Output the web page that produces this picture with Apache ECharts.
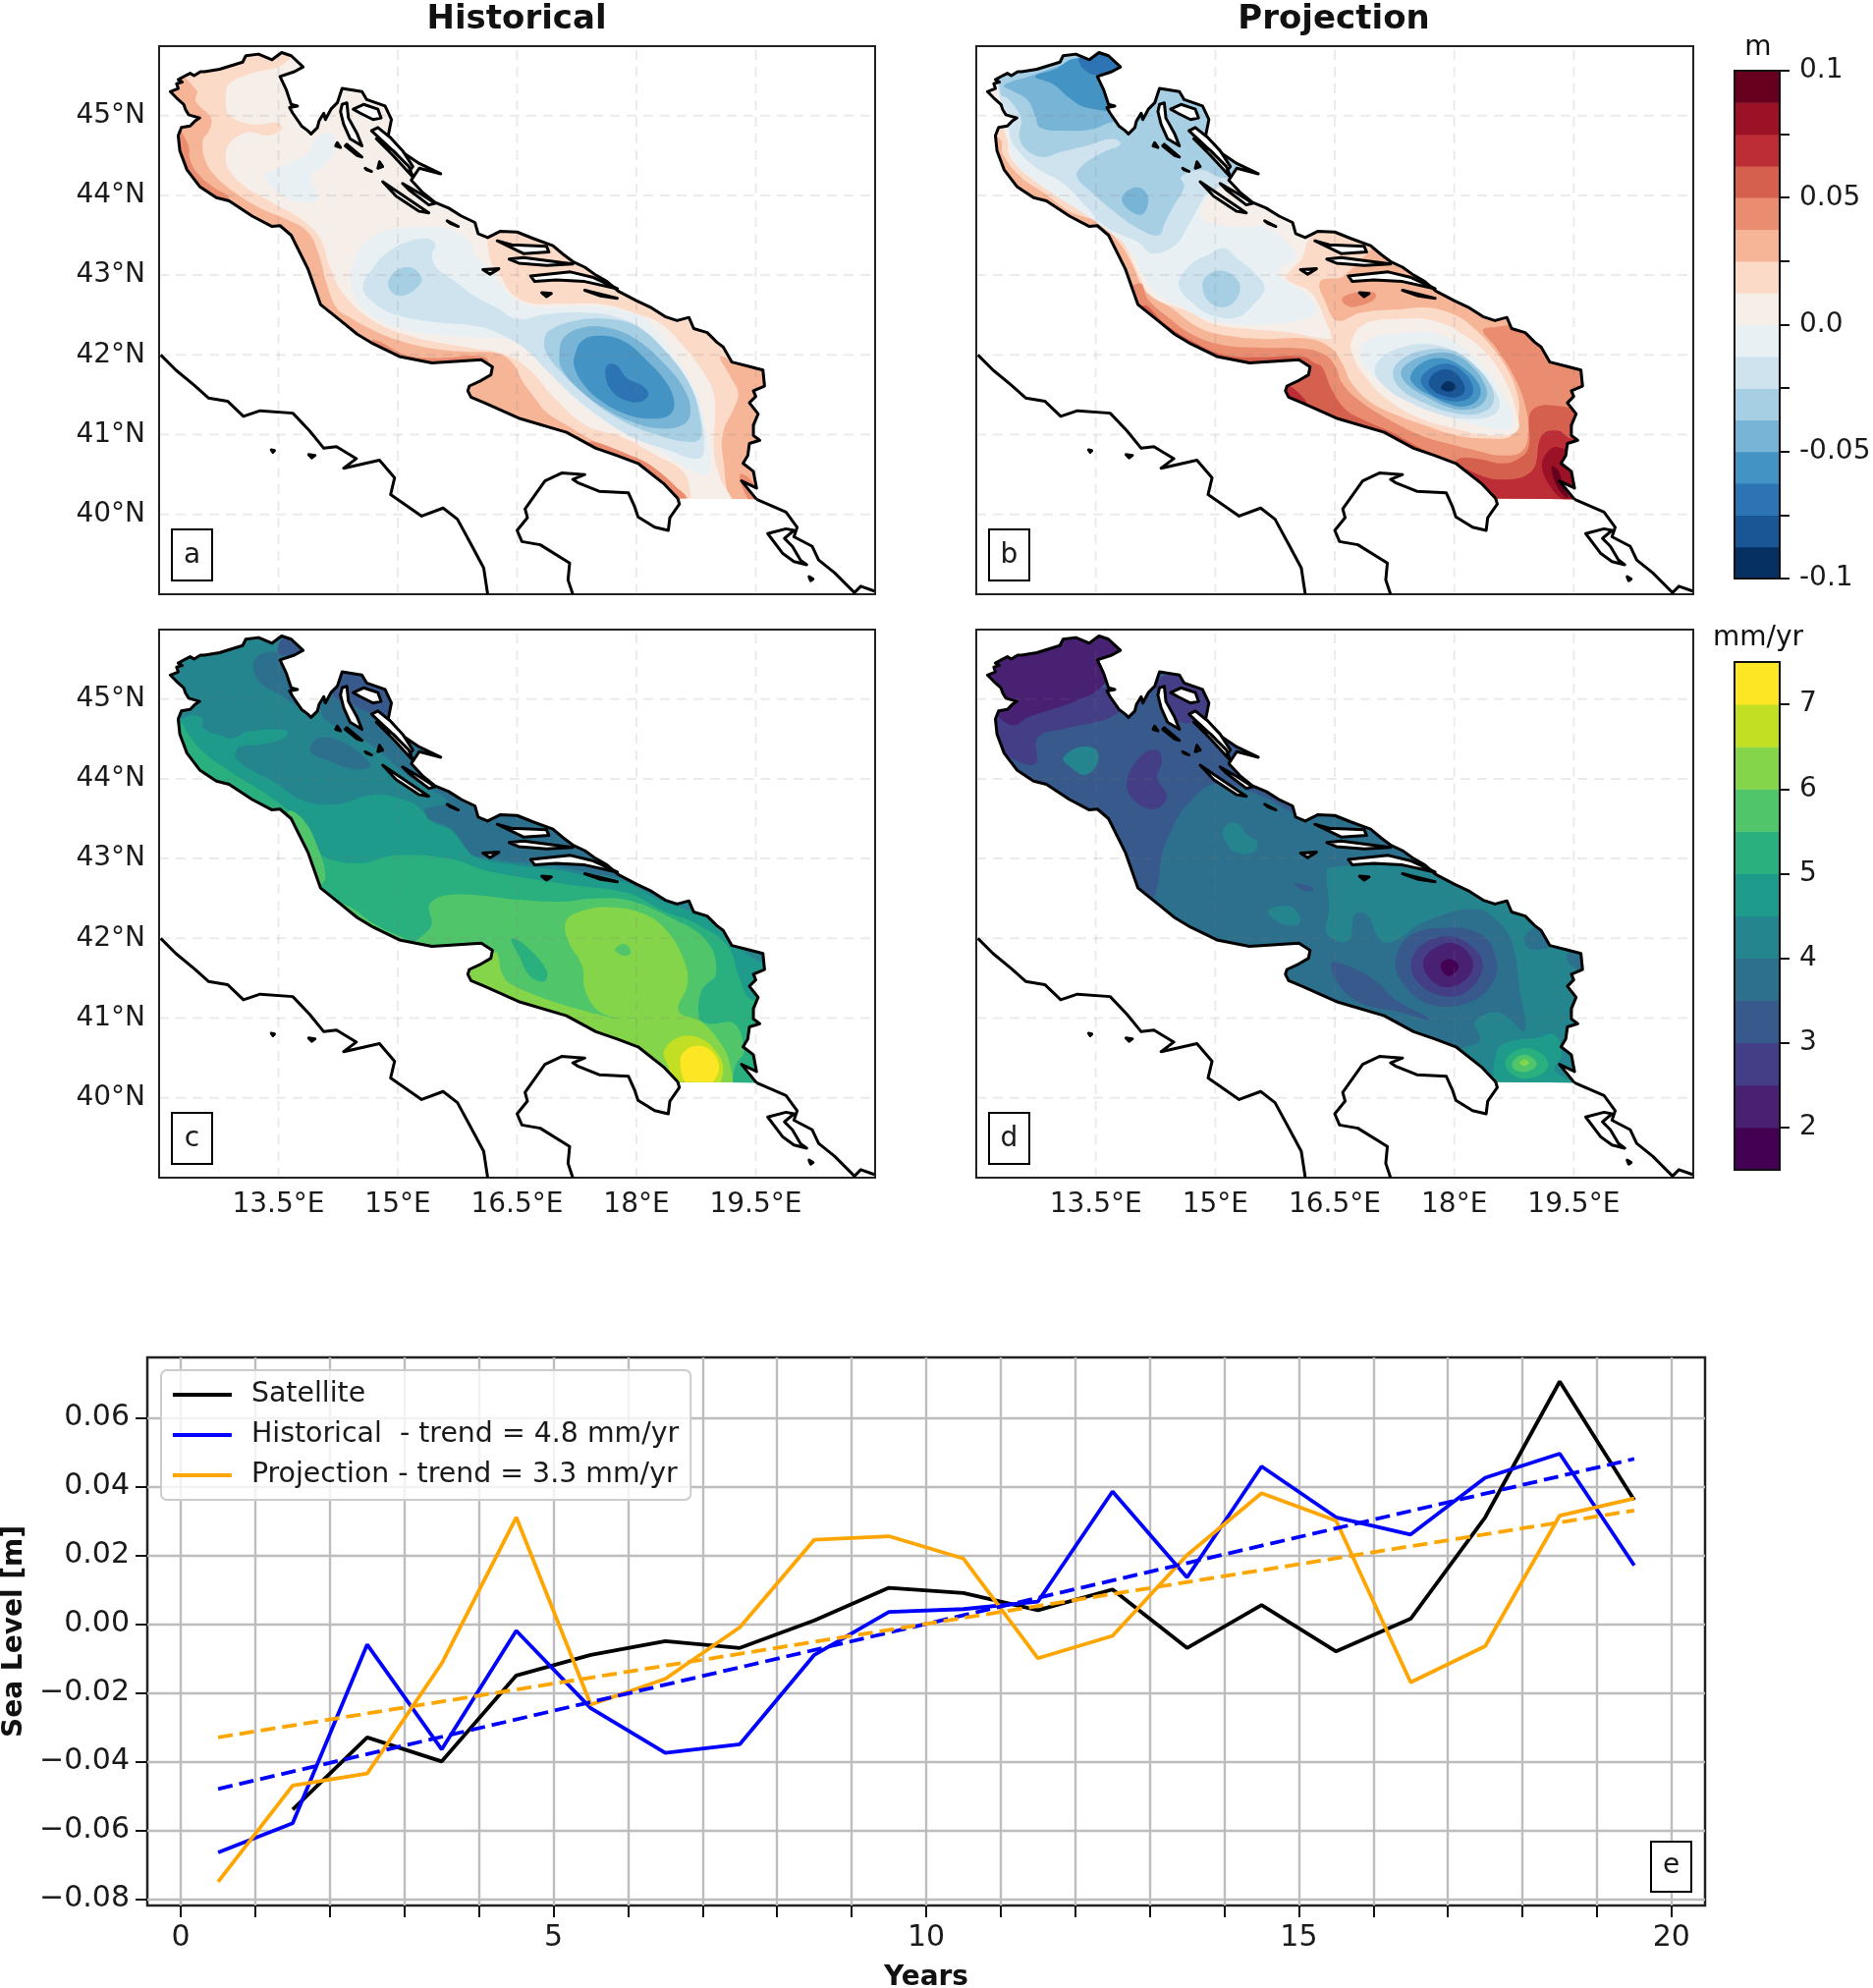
<!DOCTYPE html>
<html>
<head>
<meta charset="utf-8">
<style>html,body{margin:0;padding:0;background:#fff}#chart{width:1907px;height:2024px}</style>
<script src="https://cdn.jsdelivr.net/npm/echarts@6/dist/echarts.min.js"></script>
</head>
<body>
<div id="chart"></div>
<script>
// time series, panel e
var years = [0.5,1.5,2.5,3.5,4.5,5.5,6.5,7.5,8.5,9.5,10.5,11.5,12.5,13.5,14.5,15.5,16.5,17.5,18.5,19.5]
var satellite = [null,-0.054,-0.033,-0.040,-0.015,-0.009,-0.005,-0.007,0.001,0.0105,0.009,0.004,0.010,-0.007,0.0055,-0.008,0.0015,0.031,0.0705,0.036]
var historical = [-0.0665,-0.058,-0.006,-0.0365,-0.002,-0.0245,-0.0375,-0.035,-0.009,0.0035,0.0043,0.0065,0.0385,0.0135,0.0458,0.031,0.026,0.0425,0.0495,0.017]
var projection = [-0.075,-0.047,-0.0435,-0.0115,0.031,-0.0235,-0.016,-0.001,0.0245,0.0255,0.019,-0.010,-0.0035,0.020,0.038,0.030,-0.017,-0.0065,0.0315,0.0365]
var trendYears = [0.5,19.5]
var historicalTrend = [-0.048,0.048]
var projectionTrend = [-0.033,0.033]
var seriesNames = ['Satellite','Historical  - trend = 4.8 mm/yr','Projection - trend = 3.3 mm/yr']
var yearMinor = [0,1,2,3,4,5,6,7,8,9,10,11,12,13,14,15,16,17,18,19,20]
var yearLabels = [0,5,10,15,20]
var levelTicks = [-0.08,-0.06,-0.04,-0.02,0,0.02,0.04,0.06]

// map ticks and colour scales
var lonTicks = [13.5,15,16.5,18,19.5]
var latTicks = [40,41,42,43,44,45]
var rdbu = ['#053061','#1a5596','#2c74b4','#4394c4','#78b4d6','#a7cfe4','#cfe3ef','#e9f0f4','#f6eee9','#fcdac8','#f6b597','#e98c6f','#d6604e','#bd2d36','#9b1126','#67001f']
var viridis = ['#440154','#482173','#433e85','#38598c','#2d708e','#25858e','#1e9b8a','#2ab07f','#51c56a','#85d54a','#c2df23','#fde725']
var rdbuTicks = [-0.1,-0.075,-0.05,-0.025,0,0.025,0.05,0.075,0.1]
var rdbuLabels = [-0.1,-0.05,0,0.05,0.1]
var viridisTicks = [2,3,4,5,6,7]

// coast lines, lon/lat
var coastAdriatic = [[18.52,40.2],[18.35,40.38],[18.02,40.64],[17.75,40.74],[17.49,40.83],[17.12,41.03],[16.54,41.20],[16.09,41.40],[15.92,41.47],[15.88,41.55],[15.90,41.61],[16.05,41.68],[16.17,41.75],[16.19,41.85],[16.05,41.94],[15.43,41.90],[15.02,41.98],[14.69,42.14],[14.49,42.26],[14.28,42.43],[14.03,42.63],[13.87,43.08],[13.66,43.50],[13.52,43.62],[13.42,43.61],[13.17,43.74],[12.88,43.93],[12.72,43.97],[12.51,44.11],[12.35,44.32],[12.26,44.56],[12.24,44.75],[12.28,44.85],[12.39,44.87],[12.45,44.93],[12.51,44.97],[12.37,45.01],[12.33,45.08],[12.31,45.14],[12.22,45.22],[12.14,45.30],[12.24,45.34],[12.22,45.40],[12.29,45.42],[12.24,45.45],[12.33,45.50],[12.39,45.53],[12.44,45.50],[12.52,45.55],[12.57,45.55],[12.76,45.58],[13.05,45.67],[13.09,45.75],[13.25,45.77],[13.42,45.70],[13.54,45.79],[13.66,45.75],[13.81,45.61],[13.70,45.55],[13.52,45.49],[13.60,45.32],[13.66,45.14],[13.74,45.12],[13.64,45.10],[13.68,45.03],[13.79,44.87],[13.87,44.81],[13.91,44.77],[13.99,44.85],[14.01,44.93],[14.07,45.03],[14.09,44.95],[14.16,45.08],[14.20,45.12],[14.24,45.16],[14.30,45.34],[14.55,45.30],[14.61,45.20],[14.84,45.12],[14.92,44.95],[14.88,44.75],[15.06,44.54],[15.27,44.40],[15.54,44.27],[15.27,44.34],[15.17,44.19],[15.32,44.03],[15.47,43.91],[15.64,43.84],[15.80,43.74],[15.97,43.66],[16.01,43.52],[16.13,43.47],[16.29,43.55],[16.5,43.54],[16.70,43.46],[16.95,43.37],[17.08,43.26],[17.2,43.17],[17.35,43.10],[17.49,43.0],[17.63,42.92],[17.77,42.8],[18.0,42.68],[18.19,42.59],[18.36,42.48],[18.51,42.43],[18.66,42.47],[18.72,42.33],[18.89,42.28],[19.01,42.16],[19.09,42.10],[19.20,41.91],[19.40,41.86],[19.59,41.81],[19.61,41.61],[19.47,41.55],[19.50,41.48],[19.42,41.40],[19.53,41.26],[19.47,41.12],[19.47,40.99],[19.55,40.93],[19.42,40.89],[19.40,40.74],[19.34,40.64],[19.47,40.54],[19.51,40.33],[19.32,40.42],[19.51,40.19]]
var coastAlbania = [[19.51,40.19],[19.88,40.03],[20.02,39.84],[19.98,39.72],[20.21,39.60],[20.29,39.43],[20.49,39.27],[20.74,39.02],[20.82,39.10],[20.99,39.04]]
var coastSalento = [[18.52,40.2],[18.54,40.13],[18.42,39.96],[18.40,39.80],[18.23,39.84],[18.02,39.97],[17.98,40.09],[17.90,40.27],[17.53,40.29],[17.26,40.40],[17.20,40.44],[17.35,40.50],[17.06,40.52],[16.85,40.42],[16.60,40.07],[16.63,39.96],[16.50,39.80],[16.56,39.66],[16.79,39.62],[17.16,39.39],[17.14,39.18],[17.20,39.0]]
var coastTyrrhenian = [[12.02,42.0],[12.21,41.81],[12.44,41.62],[12.62,41.46],[12.86,41.42],[13.06,41.23],[13.27,41.30],[13.68,41.27],[13.89,41.05],[14.07,40.83],[14.23,40.85],[14.48,40.70],[14.32,40.58],[14.77,40.68],[14.96,40.46],[14.91,40.25],[15.30,39.98],[15.57,40.08],[15.75,39.94],[15.93,39.61],[16.08,39.33],[16.13,39.0]]
var islands = [
  [[19.65,39.76],[19.88,39.82],[19.98,39.80],[19.86,39.70],[19.96,39.60],[20.06,39.43],[20.14,39.37],[19.98,39.41],[19.84,39.51]],
  [[20.17,39.22],[20.22,39.19],[20.19,39.17]],
  [[13.88,40.75],[13.96,40.74],[13.92,40.71]],
  [[13.41,40.81],[13.45,40.80],[13.43,40.78]],
  [[14.30,45.14],[14.36,45.16],[14.38,44.97],[14.49,44.77],[14.55,44.62],[14.40,44.71],[14.32,44.89],[14.28,45.05]],
  [[14.44,45.08],[14.57,45.14],[14.75,45.08],[14.79,44.97],[14.69,44.95],[14.53,45.03]],
  [[14.67,44.81],[14.75,44.85],[14.90,44.73],[15.06,44.56],[15.19,44.36],[15.14,44.30],[14.98,44.52]],
  [[14.73,44.71],[14.94,44.56],[15.14,44.36],[15.19,44.23],[14.94,44.50]],
  [[14.24,44.66],[14.28,44.60],[14.22,44.62]],
  [[14.36,44.64],[14.55,44.48],[14.49,44.50],[14.34,44.62]],
  [[14.59,44.34],[14.67,44.30],[14.61,44.32]],
  [[14.77,44.42],[14.81,44.36],[14.75,44.34]],
  [[14.81,44.17],[15.02,44.03],[15.39,43.78],[15.27,43.80],[14.98,43.99]],
  [[15.06,44.15],[15.27,44.03],[15.47,43.90],[15.39,43.88],[15.14,44.07]],
  [[15.62,43.68],[15.76,43.61],[15.66,43.65]],
  [[16.07,43.07],[16.27,43.08],[16.16,43.01]],
  [[16.25,43.43],[16.43,43.38],[16.87,43.36],[16.90,43.29],[16.58,43.27]],
  [[16.40,43.20],[16.58,43.22],[17.20,43.14],[16.87,43.12],[16.52,43.15]],
  [[16.67,42.99],[17.17,43.04],[17.46,42.97],[17.76,42.83],[17.35,42.92],[16.99,42.94],[16.72,42.92]],
  [[16.81,42.78],[16.93,42.77],[16.87,42.73]],
  [[17.35,42.81],[17.76,42.71],[17.55,42.74]]
]

// contour bands: [colour level, outline in lon/lat], painted in this order
var fieldA = [
  [9,coastAdriatic],
  [10,[[12.1,45.6],[12.47,45.32],[12.46,45.18],[12.65,44.97],[12.63,44.81],[12.55,44.69],[12.58,44.44],[12.71,44.24],[12.96,44.03],[13.29,43.83],[13.58,43.71],[13.87,43.54],[14.01,43.25],[14.11,42.88],[14.23,42.59],[14.40,42.47],[14.69,42.31],[15.02,42.18],[15.43,42.08],[15.84,42.04],[16.25,42.02],[16.44,41.90],[16.58,41.65],[16.70,41.49],[16.87,41.28],[17.12,41.12],[17.49,40.91],[17.90,40.75],[18.19,40.58],[18.43,40.42],[18.60,40.19],[18.7,40.1],[18.0,40.0],[16.0,41.0],[14.0,42.0],[13.0,43.5],[12.0,44.5],[11.9,45.3]]],
  [10,[[19.05,41.98],[19.22,41.93],[19.8,41.9],[19.8,40.1],[19.24,40.13],[19.09,40.70],[19.09,41.03],[19.22,41.32],[19.28,41.52],[19.18,41.73]]],
  [11,[[12.2,44.85],[12.36,44.65],[12.39,44.44],[12.49,44.27],[12.67,44.11],[12.88,43.96],[12.7,43.8],[12.0,44.5]]],
  [11,[[17.4,40.9],[17.98,40.72],[18.23,40.58],[18.47,40.37],[18.64,40.19],[18.5,40.1],[17.8,40.4]]],
  [11,[[14.69,42.19],[15.10,42.00],[15.45,41.96],[16.1,41.97],[16.1,41.8],[14.69,42.0]]],
  [11,[[19.30,40.50],[19.45,40.42],[19.5,40.2],[19.4,40.2]]],
  [8,[[12.84,45.26],[12.88,45.40],[13.17,45.53],[13.50,45.61],[14.0,45.9],[15.6,44.9],[16.2,43.9],[16.13,43.56],[16.17,43.17],[16.29,43.0],[16.42,42.78],[16.66,42.65],[17.03,42.64],[17.61,42.63],[18.02,42.51],[18.31,42.39],[18.60,42.10],[18.85,41.77],[18.97,41.52],[18.99,41.24],[18.97,40.83],[19.05,40.46],[19.2,40.13],[18.75,40.13],[18.60,40.52],[18.23,40.75],[17.82,40.97],[17.36,41.12],[16.95,41.48],[16.70,41.77],[16.37,42.0],[15.84,42.10],[15.22,42.22],[14.69,42.43],[14.32,42.76],[14.15,43.09],[14.03,43.45],[13.79,43.70],[13.42,43.91],[13.08,44.11],[12.88,44.32],[12.84,44.52],[12.92,44.69],[13.13,44.79],[13.37,44.75],[13.54,44.83],[13.50,44.91],[13.17,44.89],[12.88,45.0],[12.84,45.14]]],
  [7,[[13.33,44.24],[13.58,44.38],[13.87,44.52],[13.99,44.73],[14.18,44.77],[14.20,44.56],[14.07,44.36],[13.91,44.24],[13.99,43.95],[13.70,43.93],[13.41,44.11]]],
  [7,[[14.42,42.84],[14.44,43.17],[14.60,43.41],[14.85,43.56],[15.22,43.60],[15.63,43.58],[15.92,43.41],[15.96,43.27],[16.13,43.09],[16.29,42.88],[16.50,42.68],[16.83,42.59],[17.36,42.61],[17.86,42.55],[18.19,42.39],[18.51,41.94],[18.72,41.61],[18.85,41.20],[18.91,40.52],[18.64,40.58],[18.31,40.79],[17.94,41.0],[17.69,41.11],[17.28,41.40],[16.95,41.73],[16.70,41.99],[16.46,42.18],[16.0,42.22],[15.43,42.26],[14.98,42.35],[14.60,42.55]]],
  [6,[[14.56,42.84],[14.69,43.09],[14.85,43.27],[15.10,43.41],[15.35,43.46],[15.47,43.39],[15.43,43.25],[15.49,43.09],[15.72,42.92],[15.96,42.74],[16.25,42.59],[16.50,42.45],[16.87,42.51],[17.36,42.53],[17.77,42.47],[18.10,42.31],[18.43,41.94],[18.68,41.61],[18.82,41.20],[18.84,40.75],[18.72,40.70],[18.39,40.81],[17.98,40.95],[17.57,41.20],[17.20,41.49],[16.87,41.81],[16.62,42.06],[16.37,42.22],[16.05,42.35],[15.47,42.41],[15.02,42.49],[14.73,42.63]]],
  [5,[[14.88,42.92],[15.0,43.07],[15.18,43.09],[15.30,42.96],[15.24,42.84],[15.06,42.74],[14.93,42.78]]],
  [5,[[16.84,42.18],[16.91,42.31],[17.24,42.43],[17.65,42.45],[18.02,42.35],[18.39,42.02],[18.68,41.61],[18.80,41.20],[18.80,40.95],[18.64,40.91],[18.27,40.99],[17.77,41.20],[17.36,41.49],[17.03,41.81],[16.87,42.02]]],
  [4,[[17.03,41.98],[17.09,42.22],[17.36,42.35],[17.69,42.33],[18.02,42.18],[18.35,41.89],[18.60,41.57],[18.68,41.28],[18.58,41.12],[18.27,41.08],[17.94,41.16],[17.61,41.32],[17.28,41.57],[17.07,41.81]]],
  [3,[[17.22,41.98],[17.32,42.18],[17.57,42.24],[17.86,42.16],[18.12,41.94],[18.35,41.69],[18.47,41.44],[18.43,41.26],[18.19,41.20],[17.86,41.26],[17.53,41.44],[17.32,41.65],[17.22,41.85]]],
  [2,[[17.63,41.87],[17.75,41.87],[17.88,41.71],[18.08,41.61],[18.15,41.50],[18.04,41.41],[17.84,41.44],[17.69,41.55],[17.62,41.69]]]
]
var fieldB = [
  [10,coastAdriatic],
  [9,[[12.31,44.69],[12.33,44.52],[12.56,44.23],[12.85,44.03],[13.17,43.80],[13.54,43.66],[13.79,43.41],[13.96,43.13],[14.12,42.80],[14.45,42.59],[14.78,42.35],[15.15,42.24],[15.60,42.2],[16.18,42.2],[16.46,42.08],[16.59,41.9],[16.71,41.65],[16.96,41.4],[17.29,41.24],[17.62,41.12],[18.03,40.99],[18.44,40.95],[18.73,40.99],[18.81,41.24],[18.79,41.52],[18.65,41.85],[18.44,42.14],[18.23,42.35],[18.03,42.49],[17.70,42.59],[17.29,42.57],[16.83,42.53],[16.53,42.43],[16.38,42.67],[16.32,42.92],[16.63,43.0],[17.0,43.6],[15.5,45],[12.5,46],[12.0,45]]],
  [8,[[12.0,46.0],[12.39,44.69],[12.41,44.52],[12.56,44.32],[12.93,44.05],[13.30,43.83],[13.67,43.62],[13.87,43.37],[14.04,43.0],[14.22,42.72],[14.65,42.55],[14.98,42.39],[15.39,42.33],[15.93,42.28],[16.44,42.2],[16.44,42.3],[16.38,42.43],[16.30,42.63],[16.18,42.8],[15.93,42.92],[15.89,42.98],[15.97,43.08],[16.09,43.21],[16.14,43.37],[16.2,43.6],[15.6,44.2],[15.5,45]]],
  [7,[[12.3,46.0],[12.41,44.69],[12.47,44.44],[12.68,44.23],[13.01,43.99],[13.34,43.78],[13.67,43.54],[13.92,43.33],[14.10,43.0],[14.33,42.72],[14.53,42.63],[14.82,42.47],[15.19,42.39],[15.72,42.39],[16.13,42.45],[16.28,42.55],[16.18,42.72],[15.89,42.92],[15.79,43.04],[16.01,43.23],[15.89,43.41],[15.64,43.6],[15.44,43.6],[15.07,43.62],[14.82,43.74],[14.90,43.97],[15.3,44.25],[15.6,44.4],[15.5,45.5],[14,46]]],
  [6,[[12.3,46],[12.28,45.30],[12.40,44.99],[12.43,44.72],[12.56,44.52],[12.76,44.34],[13.09,44.15],[13.38,43.86],[13.63,43.60],[14.04,43.41],[14.2,43.27],[14.49,43.37],[14.66,43.62],[14.82,43.91],[14.88,44.0],[15.13,44.13],[15.6,44.3],[15.5,45.5],[14.5,46]]],
  [5,[[12.31,45.26],[12.39,45.22],[12.56,44.97],[12.54,44.73],[12.64,44.56],[12.85,44.48],[13.05,44.54],[13.38,44.62],[13.71,44.71],[13.81,44.64],[13.59,44.54],[13.34,44.38],[13.26,44.24],[13.46,44.03],[13.75,43.78],[14.04,43.58],[14.29,43.50],[14.37,43.66],[14.45,43.82],[14.61,44.11],[14.57,44.23],[14.82,44.32],[15.13,44.22],[15.6,44.4],[15.5,45.5],[14.5,46],[12.3,46]]],
  [4,[[12.35,45.38],[12.72,45.51],[13.17,45.67],[13.9,45.9],[14.1,45.0],[13.67,44.91],[13.46,44.83],[13.09,44.81],[12.80,44.85],[12.74,45.0],[12.64,45.20],[12.47,45.30]]],
  [3,[[12.74,45.49],[13.01,45.59],[13.21,45.71],[13.58,45.71],[13.8,45.5],[13.8,45.1],[13.38,45.10],[13.17,45.22],[12.97,45.39]]],
  [2,[[13.30,45.73],[13.67,45.77],[13.79,45.63],[13.52,45.51],[13.34,45.59]]],
  [4,[[13.83,43.97],[13.96,44.09],[14.10,44.07],[14.16,43.93],[14.08,43.76],[13.89,43.84]]],
  [6,[[14.54,42.88],[14.69,43.13],[14.90,43.25],[15.11,43.34],[15.27,43.21],[15.48,43.04],[15.62,42.84],[15.48,42.63],[15.27,42.47],[14.98,42.49],[14.74,42.63]]],
  [5,[[14.84,42.84],[14.90,43.0],[15.11,43.05],[15.29,42.92],[15.29,42.74],[15.13,42.60],[14.94,42.65]]],
  [8,[[16.71,42.18],[16.88,42.39],[17.29,42.45],[17.74,42.43],[18.11,42.26],[18.44,41.98],[18.65,41.65],[18.77,41.32],[18.79,41.05],[18.44,40.99],[18.03,41.07],[17.58,41.2],[17.16,41.44],[16.88,41.73],[16.73,41.98]]],
  [7,[[16.83,42.1],[17.0,42.22],[17.37,42.28],[17.78,42.26],[18.11,42.1],[18.40,41.81],[18.60,41.52],[18.73,41.24],[18.69,41.07],[18.32,41.11],[17.86,41.24],[17.41,41.44],[17.04,41.69],[16.86,41.89]]],
  [6,[[17.0,41.81],[17.12,41.99],[17.45,42.12],[17.78,42.12],[18.11,41.99],[18.40,41.71],[18.57,41.4],[18.48,41.24],[18.11,41.2],[17.74,41.28],[17.37,41.44],[17.12,41.61]]],
  [5,[[17.23,41.77],[17.33,41.94],[17.62,42.06],[17.95,42.06],[18.23,41.89],[18.46,41.61],[18.48,41.38],[18.27,41.26],[17.95,41.28],[17.62,41.4],[17.33,41.57]]],
  [4,[[17.33,41.77],[17.41,41.89],[17.66,42.0],[17.95,42.02],[18.21,41.87],[18.40,41.59],[18.38,41.42],[18.21,41.32],[17.95,41.34],[17.66,41.47],[17.43,41.61]]],
  [3,[[17.45,41.73],[17.58,41.89],[17.82,41.96],[18.07,41.87],[18.30,41.65],[18.32,41.48],[18.17,41.36],[17.95,41.38],[17.70,41.49],[17.51,41.61]]],
  [2,[[17.58,41.69],[17.70,41.83],[17.91,41.89],[18.11,41.79],[18.23,41.61],[18.21,41.48],[18.07,41.42],[17.86,41.44],[17.66,41.55]]],
  [1,[[17.68,41.67],[17.78,41.79],[17.95,41.81],[18.09,41.69],[18.13,41.55],[18.03,41.47],[17.86,41.49],[17.72,41.57]]],
  [0,[[17.84,41.61],[17.91,41.67],[18.01,41.63],[18.01,41.57],[17.93,41.54],[17.84,41.57]]],
  [11,[[14.05,42.9],[14.16,42.69],[14.41,42.47],[14.74,42.24],[15.11,42.12],[15.56,42.09],[16.09,42.08],[16.38,42.0],[16.51,41.85],[16.59,41.65],[16.79,41.44],[17.16,41.2],[17.58,40.99],[17.99,40.87],[18.32,40.79],[18.56,40.74],[18.85,40.79],[18.93,41.07],[18.87,41.44],[18.73,41.77],[18.52,42.1],[18.36,42.31],[18.52,42.35],[19.2,42.4],[20,41.9],[20,40],[18.6,40.0],[17.5,40.2],[15.5,41.2],[14.0,42.2],[13.7,42.6]]],
  [11,[[16.59,42.70],[16.75,42.78],[17.0,42.78],[17.0,42.70],[16.79,42.61],[16.67,42.61]]],
  [12,[[14.10,42.62],[14.37,42.39],[14.70,42.18],[15.11,42.0],[15.56,41.97],[16.09,41.98],[16.26,41.89],[16.34,41.85],[16.46,41.57],[16.63,41.32],[16.83,41.2],[17.21,41.03],[17.58,40.83],[17.95,40.66],[18.27,40.5],[18.52,40.21],[18.6,40.1],[17.5,40.2],[15.5,41.2],[14.0,42.2]]],
  [12,[[18.03,40.68],[18.28,40.70],[18.60,40.64],[18.81,40.70],[18.93,40.83],[18.99,41.32],[19.51,41.34],[20,41.3],[20,40],[18.4,40.0],[17.8,40.3]]],
  [13,[[18.03,40.58],[18.52,40.44],[18.97,40.54],[19.10,40.99],[19.30,41.05],[19.47,40.95],[20,40.9],[20,40],[18.4,40.0]]],
  [13,[[15.88,41.62],[16.02,41.55],[16.15,41.38],[15.95,41.40]]],
  [14,[[19.10,40.62],[19.22,40.83],[19.35,40.83],[19.6,40.7],[19.6,40.1],[19.39,40.17],[19.22,40.33]]],
  [15,[[19.22,40.6],[19.30,40.56],[19.35,40.42],[19.43,40.21],[19.30,40.33]]]
]
var fieldC = [
  [5,coastAdriatic],
  [4,[[13.9,44.4],[14.03,44.52],[14.33,44.45],[14.66,44.17],[14.45,44.12],[14.1,44.24],[13.93,44.31]]],
  [4,[[13.21,45.51],[13.53,45.58],[13.59,45.35],[13.68,45.12],[13.86,44.84],[13.56,45.03],[13.24,45.24]]],
  [4,[[14.04,44.82],[14.21,44.66],[14.63,44.45],[15.16,44.01],[15.63,43.71],[15.34,43.62],[15.39,43.5],[15.69,43.36],[15.81,43.11],[16.22,42.99],[16.87,42.92],[17.46,42.81],[17.88,42.74],[18.11,42.67],[18.35,42.67],[16.58,43.92],[14.8,45.54],[14.1,45.07]]],
  [3,[[13.54,45.75],[13.71,45.77],[13.83,45.61],[13.62,45.54],[13.5,45.58]]],
  [3,[[14.27,45.31],[14.57,45.31],[14.92,45.07],[14.86,44.8],[14.39,44.94],[14.18,45.07]]],
  [6,[[12.32,44.77],[12.53,44.77],[12.56,44.63],[12.97,44.45],[12.94,44.31],[13.09,44.15],[13.45,43.96],[13.80,43.73],[14.24,43.68],[14.69,43.80],[15.16,43.71],[15.34,43.57],[15.39,43.48],[15.69,43.34],[15.87,43.11],[15.99,43.01],[16.46,42.92],[17.05,42.85],[17.46,42.76],[17.88,42.69],[18.29,42.48],[18.88,42.25],[19.23,41.93],[19.59,41.69],[20,41.6],[20,40],[18.4,40],[15,41.5],[13,43],[12,44.5]]],
  [6,[[12.68,44.47],[12.97,44.52],[13.09,44.59],[13.59,44.61],[13.59,44.52],[13.27,44.43],[13.0,44.4],[12.94,44.31],[12.74,44.38]]],
  [7,[[12.27,44.70],[12.38,44.54],[12.56,44.33],[12.91,44.08],[13.33,43.82],[13.68,43.55],[13.89,43.29],[14.04,43.04],[14.51,42.94],[14.98,43.04],[15.69,42.99],[16.10,42.85],[16.58,42.76],[17.17,42.67],[17.88,42.57],[18.35,42.34],[18.76,42.18],[19.15,41.90],[19.29,41.51],[19.44,41.23],[19.65,41.28],[19.65,39.98],[18.35,39.98],[14.2,42.3],[13.33,43.6],[12.18,44.15]]],
  [8,[[15.40,42.43],[15.69,42.55],[16.58,42.48],[17.05,42.46],[17.46,42.50],[17.88,42.48],[18.41,42.27],[18.88,41.97],[19.0,41.56],[18.82,41.35],[18.79,41.0],[18.91,40.93],[19.23,40.93],[19.35,40.58],[19.26,40.44],[19.14,40.17],[18.35,39.98],[15.99,41.14],[15.16,41.83],[15.42,42.16]]],
  [8,[[13.62,43.59],[13.80,43.5],[13.98,43.18],[14.09,42.76],[13.98,42.67],[13.62,43.22]]],
  [8,[[14.33,42.43],[14.74,42.16],[15.16,41.95],[14.92,41.93],[14.33,42.3]]],
  [7,[[16.43,41.99],[16.58,41.93],[16.87,41.6],[16.84,41.46],[16.66,41.53],[16.52,41.79]]],
  [9,[[17.11,42.20],[17.25,42.32],[17.64,42.39],[18.11,42.30],[18.41,42.06],[18.61,41.69],[18.64,41.42],[18.53,41.09],[18.82,40.95],[19.06,40.68],[19.17,40.44],[19.17,40.14],[18.53,40.12],[17.76,40.44],[15.99,41.37],[15.87,41.56],[16.22,41.83],[16.31,41.56],[16.40,41.44],[16.75,41.28],[17.17,41.14],[17.82,40.98],[17.52,41.09],[17.35,41.37],[17.32,41.65],[17.14,41.97]]],
  [8,[[17.73,41.86],[17.85,41.93],[17.93,41.83],[17.85,41.78]]],
  [10,[[18.35,40.6],[18.56,40.77],[18.82,40.74],[19.0,40.58],[19.09,40.37],[19.0,40.15],[18.55,40.15],[18.38,40.44]]],
  [11,[[18.55,40.47],[18.67,40.63],[18.88,40.63],[19.03,40.44],[19.0,40.26],[18.88,40.15],[18.65,40.15]]]
]
var fieldD = [
  [4,coastAdriatic],
  [3,[[12.06,45.17],[13.89,45.72],[16.07,44.61],[16.02,43.62],[15.6,43.78],[15.01,43.94],[14.66,43.69],[14.45,43.36],[14.33,43.04],[14.27,42.64],[14.18,42.48],[13.48,43.5],[12.29,43.96]]],
  [2,[[12.12,45.07],[12.26,44.8],[12.47,44.67],[12.65,44.77],[13.21,44.96],[13.56,45.14],[13.89,45.07],[13.74,44.8],[13.12,44.63],[12.77,44.52],[12.74,44.19],[12.44,44.26],[12.29,44.4],[12.12,44.61]]],
  [1,[[12.12,45.44],[13.06,45.77],[13.89,45.86],[13.89,45.58],[13.56,45.14],[13.21,44.96],[12.65,44.77],[12.47,44.67],[12.26,44.8],[12.12,45.07]]],
  [2,[[14.07,44.29],[14.27,44.36],[14.33,44.22],[14.27,44.01],[14.39,43.78],[14.24,43.62],[13.98,43.73],[13.89,43.96]]],
  [2,[[14.27,45.21],[14.54,45.31],[14.95,45.03],[14.89,44.8],[14.6,44.7],[14.36,44.89]]],
  [5,[[13.09,44.26],[13.30,44.4],[13.51,44.36],[13.51,44.17],[13.36,44.05],[13.18,44.15]]],
  [5,[[15.10,43.36],[15.25,43.45],[15.43,43.27],[15.53,43.22],[15.48,43.08],[15.25,43.08],[15.13,43.22]]],
  [5,[[15.66,42.34],[15.9,42.41],[16.05,42.3],[16.05,42.18],[15.84,42.18]]],
  [5,[[16.40,42.85],[16.49,42.89],[16.96,42.92],[17.85,42.81],[18.44,42.57],[19.03,42.34],[19.8,41.93],[19.8,40.12],[18.44,40.12],[18.08,40.58],[18.32,40.72],[18.26,40.95],[18.56,41.07],[18.88,40.84],[18.82,41.37],[18.73,41.93],[18.56,42.2],[18.26,42.37],[17.61,42.2],[17.26,41.97],[17.08,41.97],[16.9,42.3],[16.75,42.3],[16.67,41.97],[16.40,42.06],[16.43,42.39]]],
  [4,[[18.91,42.06],[19.03,42.13],[19.24,41.93],[18.97,41.86],[18.88,41.97]]],
  [4,[[19.44,41.83],[19.74,41.86],[19.68,41.58],[19.44,41.69]]],
  [6,[[18.53,40.58],[18.67,40.7],[19.03,40.75],[19.26,40.79],[19.35,40.54],[19.26,40.35],[19.5,40.17],[18.56,40.17]]],
  [7,[[18.64,40.44],[18.82,40.61],[19.06,40.58],[19.18,40.42],[19.06,40.28],[18.79,40.26]]],
  [8,[[18.73,40.44],[18.85,40.54],[19.0,40.49],[19.03,40.4],[18.91,40.33],[18.76,40.35]]],
  [9,[[18.82,40.44],[18.88,40.48],[18.94,40.44],[18.88,40.4]]],
  [3,[[17.26,41.69],[17.43,42.02],[17.85,42.13],[18.32,42.06],[18.53,41.74],[18.47,41.42],[18.14,41.18],[17.67,41.18],[17.37,41.42]]],
  [2,[[17.46,41.69],[17.61,41.93],[17.97,42.02],[18.29,41.83],[18.35,41.6],[18.14,41.32],[17.85,41.28],[17.55,41.44]]],
  [1,[[17.61,41.69],[17.76,41.88],[18.02,41.93],[18.23,41.72],[18.17,41.51],[17.94,41.39],[17.73,41.46]]],
  [0,[[17.83,41.67],[17.94,41.74],[18.05,41.67],[18.02,41.58],[17.91,41.53]]],
  [3,[[16.46,41.69],[16.67,41.65],[17.02,41.46],[17.26,41.23],[17.70,40.98],[17.26,41.09],[16.84,41.18],[16.55,41.42]]],
  [3,[[16.0,42.69],[16.22,42.64],[16.22,42.59],[16.07,42.62]]]
]

var mapGrids = [
  {left: 162, top: 47, width: 729, height: 558},
  {left: 994, top: 47, width: 730, height: 558},
  {left: 162, top: 641, width: 729, height: 558},
  {left: 994, top: 641, width: 730, height: 558},
]
var tickFont = {fontFamily: 'DejaVu Sans', fontSize: 28, color: '#1a1a1a'}
var bigTickFont = {fontFamily: 'DejaVu Sans', fontSize: 30, color: '#1a1a1a'}
var grids = [], xAxes = [], yAxes = [], series = [], graphics = []

function fieldSeries(list, colors, g) {
  return {
    type: 'custom', coordinateSystem: 'cartesian2d', xAxisIndex: g, yAxisIndex: g,
    silent: true, z: 2, animation: false,
    data: list.map(function (d, k) { return [d[0], k] }),
    renderItem: function (params, api) {
      var d = list[api.value(1)]
      var toPx = function (p) { return api.coord(p) }
      return {
        type: 'polygon',
        shape: {points: d[1].map(toPx), smooth: d[1] === coastAdriatic ? 0 : 0.4},
        style: {fill: colors[d[0]]},
        clipPath: {type: 'polygon', shape: {points: coastAdriatic.map(toPx)}},
      }
    },
  }
}

function overlaySeries(g) {
  return {
    type: 'custom', coordinateSystem: 'cartesian2d', xAxisIndex: g, yAxisIndex: g,
    silent: true, z: 3, animation: false, clip: true, data: [[0, 0]],
    renderItem: function (params, api) {
      var toPx = function (p) { return api.coord(p) }
      var children = []
      var gridStyle = {stroke: 'rgba(120,120,120,0.15)', lineWidth: 2, lineDash: [10, 7], fill: null}
      lonTicks.forEach(function (v) {
        children.push({type: 'polyline', shape: {points: [[v, 39], [v, 45.87]].map(toPx)}, style: gridStyle})
      })
      latTicks.forEach(function (v) {
        children.push({type: 'polyline', shape: {points: [[12, v], [21, v]].map(toPx)}, style: gridStyle})
      })
      var coastStyle = {stroke: '#000', lineWidth: 3, fill: null, lineJoin: 'round'}
      ;[coastAdriatic, coastAlbania, coastSalento, coastTyrrhenian].forEach(function (c) {
        children.push({type: 'polyline', shape: {points: c.map(toPx)}, style: coastStyle})
      })
      islands.forEach(function (c) {
        children.push({type: 'polygon', shape: {points: c.map(toPx)}, style: {stroke: '#000', lineWidth: 3, fill: '#fff', lineJoin: 'round'}})
      })
      return {type: 'group', children: children}
    },
  }
}

mapGrids.forEach(function (g, i) {
  grids.push({left: g.left, top: g.top, width: g.width, height: g.height, show: true, borderColor: '#222', borderWidth: 2, backgroundColor: '#fff', outerBoundsMode: 'none'})
  xAxes.push({
    gridIndex: i, type: 'value', min: 12, max: 21,
    axisLine: {show: false, onZero: false}, axisTick: {show: false}, splitLine: {show: false},
    axisLabel: i < 2 ? {show: false} : Object.assign({show: true, margin: 14, customValues: lonTicks, formatter: function (v) { return v + '°E' }}, tickFont),
  })
  yAxes.push({
    gridIndex: i, type: 'value', min: 39, max: 45.87,
    axisLine: {show: false, onZero: false}, axisTick: {show: false}, splitLine: {show: false},
    axisLabel: i % 2 ? {show: false} : Object.assign({show: true, margin: 14, padding: [3, 0, 0, 0], customValues: latTicks, formatter: function (v) { return v + '°N' }}, tickFont),
  })
  series.push(fieldSeries([fieldA, fieldB, fieldC, fieldD][i], i < 2 ? rdbu : viridis, i))
  series.push(overlaySeries(i))
  graphics.push({type: 'rect', z: 10, shape: {x: g.left + 13, y: g.top + g.height - 66, width: 41, height: 52}, style: {fill: '#fff', stroke: '#000', lineWidth: 2}})
  graphics.push({type: 'text', z: 11, style: {x: g.left + 33.5, y: g.top + g.height - 39, text: 'abcd'[i], fill: '#1a1a1a', font: '28px "DejaVu Sans"', align: 'center', verticalAlign: 'middle'}})
})

// colour bars
function colorbar(idx, top, colors, min, max, ticks, labels, fmt) {
  grids.push({left: 1766, top: top, width: 46, height: 517, show: true, borderColor: '#111', borderWidth: 2, z: 5, outerBoundsMode: 'none'})
  xAxes.push({gridIndex: idx, type: 'value', min: 0, max: 1, axisLine: {show: false, onZero: false}, axisTick: {show: false}, splitLine: {show: false}, axisLabel: {show: false}})
  yAxes.push({
    gridIndex: idx, type: 'value', min: min, max: max, position: 'right',
    axisLine: {show: false, onZero: false}, splitLine: {show: false},
    axisTick: {show: true, length: 10, customValues: ticks, lineStyle: {color: '#111', width: 2}},
    axisLabel: Object.assign({show: true, margin: 20, padding: [5, 0, 0, 0], customValues: labels, formatter: fmt}, tickFont),
  })
  var step = (max - min) / colors.length
  series.push({
    type: 'custom', coordinateSystem: 'cartesian2d', xAxisIndex: idx, yAxisIndex: idx,
    silent: true, animation: false, z: 2,
    data: colors.map(function (c, k) { return [0, k] }),
    renderItem: function (params, api) {
      var k = api.value(1)
      var a = api.coord([0, min + (k + 1) * step]), b = api.coord([1, min + k * step])
      return {type: 'rect', shape: {x: a[0], y: a[1], width: b[0] - a[0], height: b[1] - a[1] + 0.5}, style: {fill: colors[k]}}
    },
  })
}
colorbar(4, 72, rdbu, -0.1, 0.1, rdbuTicks, rdbuLabels, function (v) { return v === 0 ? '0.0' : String(v) })
colorbar(5, 674, viridis, 1.5, 7.5, viridisTicks, viridisTicks, function (v) { return String(v) })

// panel e
grids.push({left: 150, top: 1382, width: 1586, height: 558, show: true, borderColor: '#222', borderWidth: 2.5, outerBoundsMode: 'none'})
var gridLine = {show: true, lineStyle: {color: '#bdbdbd', width: 2.4}}
xAxes.push({
  gridIndex: 6, type: 'value', min: -0.45, max: 20.45, name: 'Years', nameLocation: 'middle', nameGap: 60,
  nameTextStyle: {fontFamily: 'DejaVu Sans', fontWeight: 'bold', fontSize: 28, color: '#111'},
  axisLine: {show: false, onZero: false}, splitLine: gridLine,
  axisTick: {show: true, length: 12, customValues: yearMinor, lineStyle: {color: '#111', width: 2}},
  axisLabel: Object.assign({show: true, margin: 18, customValues: yearLabels, formatter: function (v) { return String(v) }}, bigTickFont),
})
yAxes.push({
  gridIndex: 6, type: 'value', min: -0.0819, max: 0.0775, name: 'Sea Level [m]', nameLocation: 'middle', nameGap: 120, nameRotate: 90,
  nameTextStyle: {fontFamily: 'DejaVu Sans', fontWeight: 'bold', fontSize: 28, color: '#111'},
  axisLine: {show: false, onZero: false}, splitLine: gridLine,
  axisTick: {show: true, length: 12, customValues: levelTicks, lineStyle: {color: '#111', width: 2}},
  axisLabel: Object.assign({show: true, margin: 18, customValues: levelTicks, formatter: function (v) { return (v < 0 ? '−' : '') + Math.abs(v).toFixed(2) }}, bigTickFont),
})
function tsLine(name, xs, ys, color, dashed) {
  return {
    name: name, type: 'line', xAxisIndex: 6, yAxisIndex: 6, symbol: 'none', animation: false, z: 4,
    data: xs.map(function (x, k) { return [x, ys[k]] }),
    lineStyle: {color: color, width: 3.8, type: dashed ? [15, 7] : 'solid'},
    itemStyle: {color: color},
  }
}
series.push(tsLine(seriesNames[0], years, satellite, '#000000'))
series.push(tsLine(seriesNames[1], years, historical, '#0000ff'))
series.push(tsLine(seriesNames[2], years, projection, '#ffa500'))
series.push(tsLine('Historical trend', trendYears, historicalTrend, '#0000ff', true))
series.push(tsLine('Projection trend', trendYears, projectionTrend, '#ffa500', true))
graphics.push({type: 'rect', z: 10, shape: {x: 1681, y: 1875, width: 41, height: 51}, style: {fill: '#fff', stroke: '#000', lineWidth: 2}})
graphics.push({type: 'text', z: 11, style: {x: 1701.5, y: 1900, text: 'e', fill: '#1a1a1a', font: '28px "DejaVu Sans"', align: 'center', verticalAlign: 'middle'}})

// headers
function label(text, x, y, font) {
  graphics.push({type: 'text', z: 11, style: {x: x, y: y, text: text, fill: '#111', font: font, align: 'center', verticalAlign: 'middle'}})
}
label('Historical', 526, 20, 'bold 34px "DejaVu Sans"')
label('Projection', 1358, 20, 'bold 34px "DejaVu Sans"')
label('m', 1790, 49, '28px "DejaVu Sans"')
label('mm/yr', 1790, 650, '28px "DejaVu Sans"')

var chart = echarts.init(document.getElementById('chart'))
chart.setOption({
  animation: false,
  backgroundColor: '#fff',
  grid: grids, xAxis: xAxes, yAxis: yAxes,
  legend: {
    data: seriesNames, left: 164, top: 1395, orient: 'vertical',
    itemWidth: 60, itemHeight: 4, itemGap: 13, padding: [11, 12, 11, 10],
    backgroundColor: 'rgba(255,255,255,0.8)', borderColor: '#ccc', borderWidth: 2, borderRadius: 6,
    lineStyle: {width: 3.8}, itemStyle: {opacity: 0},
    textStyle: {fontFamily: 'DejaVu Sans', fontSize: 28.4, color: '#1a1a1a', padding: [0, 0, 0, 15]},
  },
  series: series,
  graphic: {elements: graphics},
})
</script>
</body>
</html>
